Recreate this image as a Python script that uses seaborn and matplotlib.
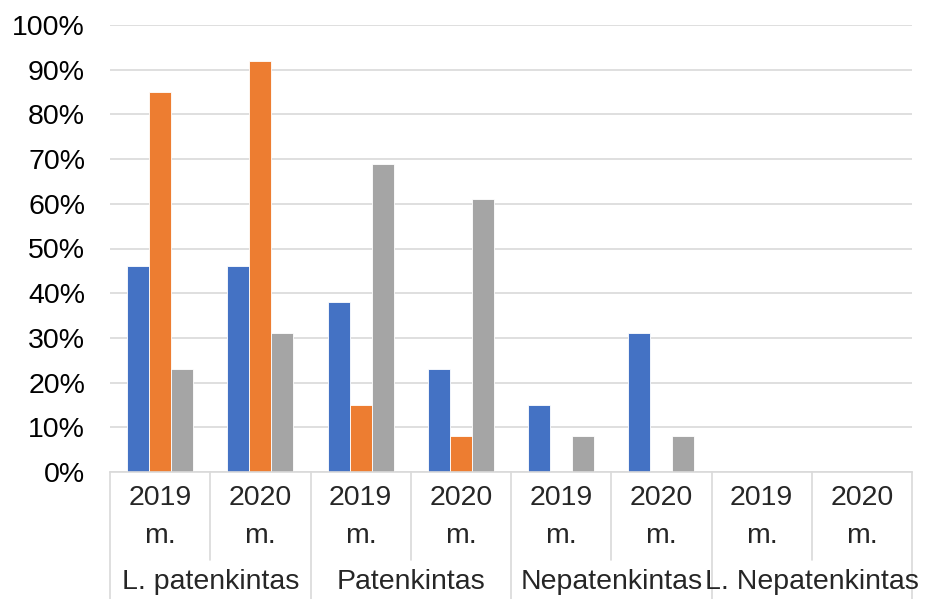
import matplotlib
import matplotlib.pyplot as plt
import pandas as pd
import seaborn as sns
from matplotlib.ticker import MultipleLocator, PercentFormatter

matplotlib.rcParams['figure.dpi'] = 100

GROUPS = ['L. patenkintas', 'Patenkintas', 'Nepatenkintas', 'L. Nepatenkintas']
YEARS = ['2019\nm.', '2020\nm.']
SERIES = ['Serija 1', 'Serija 2', 'Serija 3']
COLORS = ['#4472C4', '#ED7D31', '#A5A5A5']

# one value per (group, year) cell, in order
SERIES_1 = [46, 46, 38, 23, 15, 31, 0, 0]
SERIES_2 = [85, 92, 15, 8, 0, 0, 0, 0]
SERIES_3 = [23, 31, 69, 61, 8, 8, 0, 0]

FS = 20.5


def _build_frame():
    cells = [f'{g}|{y}' for g in GROUPS for y in YEARS]
    rows = []
    for name, values in zip(SERIES, [SERIES_1, SERIES_2, SERIES_3]):
        for cell, v in zip(cells, values):
            rows.append({'cell': cell, 'series': name, 'value': v})
    return pd.DataFrame(rows), cells


def main():
    df, cells = _build_frame()

    sns.set_style('white')
    plt.rcParams['font.family'] = ['Liberation Sans', 'DejaVu Sans']

    fig = plt.figure(figsize=(9.25, 5.99))
    ax = fig.add_axes([110 / 925, 127 / 599, 802 / 925, 447 / 599])

    sns.barplot(data=df, x='cell', y='value', hue='series', order=cells,
                hue_order=SERIES, palette=COLORS, saturation=1, width=0.66,
                dodge=True, edgecolor='white', linewidth=0.6, legend=False,
                ax=ax, zorder=2)

    ax.set_ylim(0, 100)
    ax.set_xlim(-0.5, len(cells) - 0.5)
    ax.yaxis.set_major_locator(MultipleLocator(10))
    ax.yaxis.set_major_formatter(PercentFormatter(decimals=0))
    ax.tick_params(axis='y', labelsize=FS, length=0, pad=18, colors='black')
    ax.grid(axis='y', color='#d9d9d9', linewidth=1.2, zorder=0)
    ax.set_axisbelow(True)
    ax.set_xlabel('')
    ax.set_ylabel('')
    ax.set_xticks([])
    for side in ['top', 'right', 'left']:
        ax.spines[side].set_visible(False)
    ax.spines['bottom'].set_color('#d9d9d9')
    ax.spines['bottom'].set_linewidth(1.2)

    trans = ax.get_xaxis_transform()
    to_axes = 1 / 447  # pixels -> axes fraction (vertical)

    # year labels
    for i, cell in enumerate(cells):
        year = cell.split('|')[1]
        ax.text(i, -45 * to_axes, year, transform=trans, ha='center', va='center',
                fontsize=FS, linespacing=1.62)

    # group labels
    for k, g in enumerate(GROUPS):
        ax.text(2 * k + 0.5, -110 * to_axes, g, transform=trans, ha='center',
                va='center', fontsize=FS)

    # separators of the multi-level axis
    for b in range(len(cells) + 1):
        x = b - 0.5
        bottom = -127 * to_axes if b % 2 == 0 else -88 * to_axes
        ax.plot([x, x], [0, bottom], transform=trans, color='#d9d9d9',
                linewidth=1.2, clip_on=False)

    fig.savefig('out.png', dpi=100)


if __name__ == '__main__':
    main()
